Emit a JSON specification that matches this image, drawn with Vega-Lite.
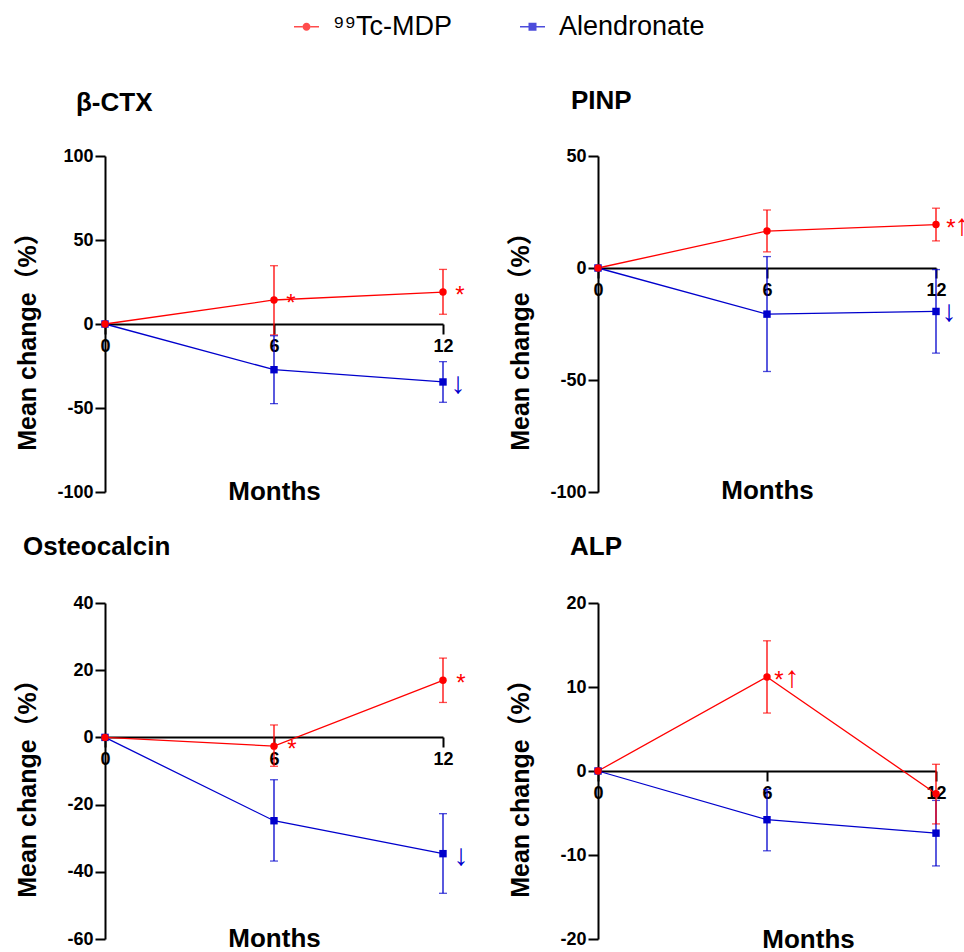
{
  "$schema": "https://vega.github.io/schema/vega-lite/v6.json",
  "padding": {"left": 15, "top": 13, "right": 0, "bottom": 0},
  "background": "white",
  "datasets": {
    "d": [
      {"panel": "b", "group": "Alendronate", "month": 0, "mean": 0, "lo": null, "hi": null},
      {"panel": "b", "group": "Alendronate", "month": 6, "mean": -27.2, "lo": -47.4, "hi": -7.0},
      {"panel": "b", "group": "Alendronate", "month": 12, "mean": -34.5, "lo": -46.6, "hi": -22.4},
      {"panel": "b", "group": "⁹⁹Tc-MDP", "month": 0, "mean": 0, "lo": null, "hi": null},
      {"panel": "b", "group": "⁹⁹Tc-MDP", "month": 6, "mean": 14.3, "lo": -6.5, "hi": 34.7},
      {"panel": "b", "group": "⁹⁹Tc-MDP", "month": 12, "mean": 19.0, "lo": 5.8, "hi": 32.5},
      {"panel": "p", "group": "Alendronate", "month": 0, "mean": 0, "lo": null, "hi": null},
      {"panel": "p", "group": "Alendronate", "month": 6, "mean": -20.6, "lo": -46.2, "hi": 5.1},
      {"panel": "p", "group": "Alendronate", "month": 12, "mean": -19.4, "lo": -38.0, "hi": -0.7},
      {"panel": "p", "group": "⁹⁹Tc-MDP", "month": 0, "mean": 0, "lo": null, "hi": null},
      {"panel": "p", "group": "⁹⁹Tc-MDP", "month": 6, "mean": 16.5, "lo": 7.2, "hi": 25.9},
      {"panel": "p", "group": "⁹⁹Tc-MDP", "month": 12, "mean": 19.4, "lo": 12.1, "hi": 26.7},
      {"panel": "o", "group": "Alendronate", "month": 0, "mean": 0, "lo": null, "hi": null},
      {"panel": "o", "group": "Alendronate", "month": 6, "mean": -24.8, "lo": -36.8, "hi": -12.6},
      {"panel": "o", "group": "Alendronate", "month": 12, "mean": -34.6, "lo": -46.4, "hi": -22.7},
      {"panel": "o", "group": "⁹⁹Tc-MDP", "month": 0, "mean": 0, "lo": null, "hi": null},
      {"panel": "o", "group": "⁹⁹Tc-MDP", "month": 6, "mean": -2.6, "lo": -8.6, "hi": 3.7},
      {"panel": "o", "group": "⁹⁹Tc-MDP", "month": 12, "mean": 17.0, "lo": 10.4, "hi": 23.6},
      {"panel": "a", "group": "Alendronate", "month": 0, "mean": 0, "lo": null, "hi": null},
      {"panel": "a", "group": "Alendronate", "month": 6, "mean": -5.8, "lo": -9.5, "hi": -2.2},
      {"panel": "a", "group": "Alendronate", "month": 12, "mean": -7.4, "lo": -11.3, "hi": -3.5},
      {"panel": "a", "group": "⁹⁹Tc-MDP", "month": 0, "mean": 0, "lo": null, "hi": null},
      {"panel": "a", "group": "⁹⁹Tc-MDP", "month": 6, "mean": 11.2, "lo": 6.9, "hi": 15.5},
      {"panel": "a", "group": "⁹⁹Tc-MDP", "month": 12, "mean": -2.7, "lo": -6.3, "hi": 0.8}
    ],
    "ann": [
      {"panel": "b", "group": "⁹⁹Tc-MDP", "month": 6, "mean": 14.3, "label": "*"},
      {"panel": "b", "group": "⁹⁹Tc-MDP", "month": 12, "mean": 19.0, "label": "*"},
      {"panel": "b", "group": "Alendronate", "month": 12, "mean": -34.5, "label": "↓"},
      {"panel": "p", "group": "⁹⁹Tc-MDP", "month": 12, "mean": 19.4, "label": "*"},
      {"panel": "p", "group": "⁹⁹Tc-MDP", "month": 12, "mean": 19.4, "label": "↑"},
      {"panel": "p", "group": "Alendronate", "month": 12, "mean": -19.4, "label": "↓"},
      {"panel": "o", "group": "⁹⁹Tc-MDP", "month": 6, "mean": -2.6, "label": "*"},
      {"panel": "o", "group": "⁹⁹Tc-MDP", "month": 12, "mean": 17.0, "label": "*"},
      {"panel": "o", "group": "Alendronate", "month": 12, "mean": -34.6, "label": "↓"},
      {"panel": "a", "group": "⁹⁹Tc-MDP", "month": 6, "mean": 11.2, "label": "*"},
      {"panel": "a", "group": "⁹⁹Tc-MDP", "month": 6, "mean": 11.2, "label": "↑"}
    ]
  },
  "columns": 2,
  "spacing": {"row": 111, "column": 155},
  "bounds": "flush",
  "concat": [
    {
      "width": 338, "height": 336,
      "title": {"text": "β-CTX", "anchor": "start", "frame": "group", "dx": -29, "offset": 10, "baseline": "alphabetic"},
      "encoding": {
        "x": {"field": "month", "type": "quantitative", "scale": {"domain": [0, 12], "nice": false}, "axis": {"values": [0, 6, 12], "offset": -168, "title": "Months", "titleY": 175}},
        "y": {"field": "mean", "type": "quantitative", "scale": {"domain": [-100, 100], "nice": false}, "axis": {"values": [-100, -50, 0, 50, 100], "title": "Mean change（%）"}},
        "color": {"field": "group", "type": "nominal", "scale": {"domain": ["⁹⁹Tc-MDP", "Alendronate"], "range": ["#ff0000", "#0000cc"]},
          "legend": {"orient": "none", "legendX": 188, "legendY": -143, "direction": "horizontal", "title": null, "labelFontSize": 27, "labelFont": "Liberation Sans", "labelColor": "black", "symbolSize": 100, "symbolStrokeWidth": 0, "labelOffset": 13, "columnPadding": 66, "symbolOpacity": 1}}
      },
      "layer": [
        {"data": {"name": "d"}, "transform": [{"filter": "datum.panel === 'b' && datum.lo != null"}],
         "mark": {"type": "errorbar", "ticks": {"size": 8}, "thickness": 1.3},
         "encoding": {"y": {"field": "lo", "type": "quantitative", "scale": {"domain": [-100, 100], "nice": false}, "axis": {"values": [-100, -50, 0, 50, 100], "title": "Mean change（%）"}}, "y2": {"field": "hi"}}},
        {"data": {"name": "d"}, "transform": [{"filter": "datum.panel === 'b'"}], "mark": {"type": "line", "strokeWidth": 1.3}},
        {"data": {"name": "d"}, "transform": [{"filter": "datum.panel === 'b' && datum.group === 'Alendronate'"}], "mark": {"type": "point", "filled": true, "size": 55, "opacity": 1, "shape": "square"}},
        {"data": {"name": "d"}, "transform": [{"filter": "datum.panel === 'b' && datum.group !== 'Alendronate'"}], "mark": {"type": "point", "filled": true, "size": 55, "opacity": 1, "shape": "circle"}},
        {"data": {"name": "d"}, "transform": [{"filter": "datum.month > 100"}], "mark": {"type": "point", "filled": true, "opacity": 1},
         "encoding": {"shape": {"field": "group", "type": "nominal", "scale": {"domain": ["⁹⁹Tc-MDP", "Alendronate"], "range": [
           "M-2.5,-0.15H-0.8V0.15H-2.5Z M0.8,-0.15H2.5V0.15H0.8Z M0.8,0A0.8,0.8 0 1,1 -0.8,0A0.8,0.8 0 1,1 0.8,0Z",
           "M-2.5,-0.15H-0.8V0.15H-2.5Z M0.8,-0.15H2.5V0.15H0.8Z M-0.8,-0.8H0.8V0.8H-0.8Z"]}, "legend": null}}},
        {"data": {"name": "ann"}, "transform": [{"filter": "datum.panel === 'b' && datum.label === '*'"}], "mark": {"type": "text", "align": "center", "baseline": "middle", "dx": 17, "dy": 4, "fontSize": 24, "font": "Liberation Sans"},
         "encoding": {"text": {"field": "label"}}},
        {"data": {"name": "ann"}, "transform": [{"filter": "datum.panel === 'b' && datum.label !== '*'"}], "mark": {"type": "text", "align": "center", "baseline": "middle", "dx": 15, "dy": 2, "fontSize": 30, "font": "Liberation Sans"},
         "encoding": {"text": {"field": "label"}}}
      ]
    },
    {
      "width": 338, "height": 336,
      "title": {"text": "PINP", "anchor": "start", "frame": "group", "dx": -27, "offset": 12, "baseline": "alphabetic"},
      "encoding": {
        "x": {"field": "month", "type": "quantitative", "scale": {"domain": [0, 12], "nice": false}, "axis": {"values": [0, 6, 12], "offset": -224, "title": "Months", "titleY": 230}},
        "y": {"field": "mean", "type": "quantitative", "scale": {"domain": [-100, 50], "nice": false}, "axis": {"values": [-100, -50, 0, 50], "title": "Mean change（%）"}},
        "color": {"field": "group", "type": "nominal", "scale": {"domain": ["⁹⁹Tc-MDP", "Alendronate"], "range": ["#ff0000", "#0000cc"]}}
      },
      "layer": [
        {"data": {"name": "d"}, "transform": [{"filter": "datum.panel === 'p' && datum.lo != null"}],
         "mark": {"type": "errorbar", "ticks": {"size": 8}, "thickness": 1.3},
         "encoding": {"y": {"field": "lo", "type": "quantitative", "scale": {"domain": [-100, 50], "nice": false}, "axis": {"values": [-100, -50, 0, 50], "title": "Mean change（%）"}}, "y2": {"field": "hi"}}},
        {"data": {"name": "d"}, "transform": [{"filter": "datum.panel === 'p'"}], "mark": {"type": "line", "strokeWidth": 1.3}},
        {"data": {"name": "d"}, "transform": [{"filter": "datum.panel === 'p' && datum.group === 'Alendronate'"}], "mark": {"type": "point", "filled": true, "size": 55, "opacity": 1, "shape": "square"}},
        {"data": {"name": "d"}, "transform": [{"filter": "datum.panel === 'p' && datum.group !== 'Alendronate'"}], "mark": {"type": "point", "filled": true, "size": 55, "opacity": 1, "shape": "circle"}},
        {"data": {"name": "ann"}, "transform": [{"filter": "datum.panel === 'p' && datum.label === '*'"}], "mark": {"type": "text", "align": "center", "baseline": "middle", "dx": 15, "dy": 4, "fontSize": 24, "font": "Liberation Sans"},
         "encoding": {"text": {"field": "label"}}},
        {"data": {"name": "ann"}, "transform": [{"filter": "datum.panel === 'p' && datum.label === '↓'"}], "mark": {"type": "text", "align": "center", "baseline": "middle", "dx": 13, "dy": 1, "fontSize": 30, "font": "Liberation Sans"},
         "encoding": {"text": {"field": "label"}}},
        {"data": {"name": "ann"}, "transform": [{"filter": "datum.panel === 'p' && datum.label === '↑'"}], "mark": {"type": "text", "align": "center", "baseline": "middle", "dx": 26, "dy": 1, "fontSize": 30, "font": "Liberation Sans"},
         "encoding": {"text": {"field": "label"}}}
      ]
    },
    {
      "width": 338, "height": 336,
      "title": {"text": "Osteocalcin", "anchor": "start", "frame": "group", "dx": -82, "offset": 13, "baseline": "alphabetic"},
      "encoding": {
        "x": {"field": "month", "type": "quantitative", "scale": {"domain": [0, 12], "nice": false}, "axis": {"values": [0, 6, 12], "offset": -202, "title": "Months", "titleY": 209}},
        "y": {"field": "mean", "type": "quantitative", "scale": {"domain": [-60, 40], "nice": false}, "axis": {"values": [-60, -40, -20, 0, 20, 40], "title": "Mean change（%）"}},
        "color": {"field": "group", "type": "nominal", "scale": {"domain": ["⁹⁹Tc-MDP", "Alendronate"], "range": ["#ff0000", "#0000cc"]}}
      },
      "layer": [
        {"data": {"name": "d"}, "transform": [{"filter": "datum.panel === 'o' && datum.lo != null"}],
         "mark": {"type": "errorbar", "ticks": {"size": 8}, "thickness": 1.3},
         "encoding": {"y": {"field": "lo", "type": "quantitative", "scale": {"domain": [-60, 40], "nice": false}, "axis": {"values": [-60, -40, -20, 0, 20, 40], "title": "Mean change（%）"}}, "y2": {"field": "hi"}}},
        {"data": {"name": "d"}, "transform": [{"filter": "datum.panel === 'o'"}], "mark": {"type": "line", "strokeWidth": 1.3}},
        {"data": {"name": "d"}, "transform": [{"filter": "datum.panel === 'o' && datum.group === 'Alendronate'"}], "mark": {"type": "point", "filled": true, "size": 55, "opacity": 1, "shape": "square"}},
        {"data": {"name": "d"}, "transform": [{"filter": "datum.panel === 'o' && datum.group !== 'Alendronate'"}], "mark": {"type": "point", "filled": true, "size": 55, "opacity": 1, "shape": "circle"}},
        {"data": {"name": "ann"}, "transform": [{"filter": "datum.panel === 'o' && datum.label === '*'"}], "mark": {"type": "text", "align": "center", "baseline": "middle", "dx": 18, "dy": 4, "fontSize": 24, "font": "Liberation Sans"},
         "encoding": {"text": {"field": "label"}}},
        {"data": {"name": "ann"}, "transform": [{"filter": "datum.panel === 'o' && datum.label !== '*'"}], "mark": {"type": "text", "align": "center", "baseline": "middle", "dx": 18, "dy": 2, "fontSize": 30, "font": "Liberation Sans"},
         "encoding": {"text": {"field": "label"}}}
      ]
    },
    {
      "width": 338, "height": 336,
      "title": {"text": "ALP", "anchor": "start", "frame": "group", "dx": -28, "offset": 13, "baseline": "alphabetic"},
      "encoding": {
        "x": {"field": "month", "type": "quantitative", "scale": {"domain": [0, 12], "nice": false}, "axis": {"values": [0, 6, 12], "offset": -168, "title": "Months", "titleY": 176, "titleX": 210}},
        "y": {"field": "mean", "type": "quantitative", "scale": {"domain": [-20, 20], "nice": false}, "axis": {"values": [-20, -10, 0, 10, 20], "title": "Mean change（%）"}},
        "color": {"field": "group", "type": "nominal", "scale": {"domain": ["⁹⁹Tc-MDP", "Alendronate"], "range": ["#ff0000", "#0000cc"]}}
      },
      "layer": [
        {"data": {"name": "d"}, "transform": [{"filter": "datum.panel === 'a' && datum.lo != null"}],
         "mark": {"type": "errorbar", "ticks": {"size": 8}, "thickness": 1.3},
         "encoding": {"y": {"field": "lo", "type": "quantitative", "scale": {"domain": [-20, 20], "nice": false}, "axis": {"values": [-20, -10, 0, 10, 20], "title": "Mean change（%）"}}, "y2": {"field": "hi"}}},
        {"data": {"name": "d"}, "transform": [{"filter": "datum.panel === 'a'"}], "mark": {"type": "line", "strokeWidth": 1.3}},
        {"data": {"name": "d"}, "transform": [{"filter": "datum.panel === 'a' && datum.group === 'Alendronate'"}], "mark": {"type": "point", "filled": true, "size": 55, "opacity": 1, "shape": "square"}},
        {"data": {"name": "d"}, "transform": [{"filter": "datum.panel === 'a' && datum.group !== 'Alendronate'"}], "mark": {"type": "point", "filled": true, "size": 55, "opacity": 1, "shape": "circle"}},
        {"data": {"name": "ann"}, "transform": [{"filter": "datum.panel === 'a' && datum.label === '*'"}], "mark": {"type": "text", "align": "center", "baseline": "middle", "dx": 12, "dy": 4, "fontSize": 24, "font": "Liberation Sans"},
         "encoding": {"text": {"field": "label"}}},
        {"data": {"name": "ann"}, "transform": [{"filter": "datum.panel === 'a' && datum.label === '↑'"}], "mark": {"type": "text", "align": "center", "baseline": "middle", "dx": 25, "dy": 1, "fontSize": 30, "font": "Liberation Sans"},
         "encoding": {"text": {"field": "label"}}}
      ]
    }
  ],
  "config": {
    "view": {"stroke": null},
    "font": "Liberation Sans",
    "title": {"font": "Liberation Sans", "fontSize": 26, "fontWeight": "bold", "color": "black"},
    "axis": {"grid": false, "domainColor": "black", "domainWidth": 2, "tickColor": "black", "tickWidth": 2, "tickSize": 10,
      "labelFont": "Liberation Sans", "labelFontWeight": "bold", "labelFontSize": 18, "labelColor": "black",
      "labelExpr": "replace(datum.label, '−', '-')",
      "titleFont": "Liberation Sans, Noto Sans CJK SC", "titleFontWeight": "bold", "titleColor": "black", "titleBaseline": "alphabetic"},
    "axisX": {"labelPadding": 3, "titleFontSize": 26, "labelFlush": false, "labelOverlap": false},
    "axisY": {"labelPadding": 2, "titleFontSize": 25, "titleX": -70, "titleY": 179, "titleAngle": -90}
  }
}
